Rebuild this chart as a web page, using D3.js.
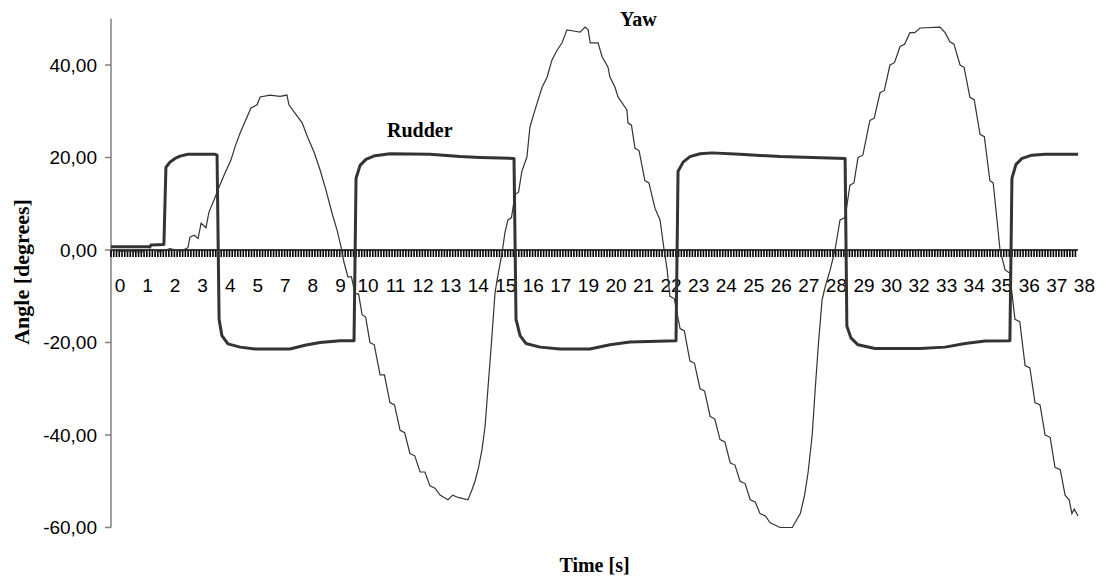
<!DOCTYPE html>
<html><head><meta charset="utf-8">
<script src="https://cdn.jsdelivr.net/npm/d3@7"></script>
<style>body{margin:0;background:#fff} svg{display:block}</style>
</head><body><svg id="c" width="1106" height="580"></svg>
<script>
// ---- data (time in s, angle in degrees) ----
const rudderTime  = [0.00,1.54,1.58,2.09,2.17,2.33,2.53,2.73,3.04,4.11,4.19,4.27,4.38,4.62,5.10,5.69,7.07,7.66,8.26,9.05,9.60,9.68,9.84,10.07,10.43,11.02,12.60,13.79,14.58,15.92,16.00,16.16,16.39,16.95,17.74,18.92,19.71,20.50,22.32,22.40,22.60,22.87,23.27,23.74,24.85,26.43,29.00,29.07,29.23,29.51,30.18,31.96,32.95,33.74,34.53,35.51,35.59,35.75,35.99,36.38,36.90,38.20];
const rudderAngle = [0.7,0.7,1.1,1.2,17.9,19.0,19.8,20.3,20.7,20.7,20.5,-15,-18.5,-20.3,-21.0,-21.4,-21.4,-20.6,-20.0,-19.6,-19.6,15.5,18.3,19.6,20.4,20.8,20.7,20.2,20.0,19.8,-15,-18.5,-20.2,-21.0,-21.4,-21.4,-20.5,-19.9,-19.6,17.0,19.0,20.2,20.8,21.0,20.7,20.2,19.8,-16.5,-19.0,-20.5,-21.3,-21.3,-21.0,-20.2,-19.7,-19.6,15.5,18.5,19.8,20.5,20.7,20.7];

// yaw readings as [time, angle]
const yawSamples = [
 [0.00,0.0],[0.36,-0.3],[0.75,-0.2],[1.15,-0.5],[1.54,0.2],[1.94,-0.4],[2.33,0.3],[2.73,-0.3],[3.04,0.5],
 [3.12,2.8],[3.28,3.2],[3.44,2.5],[3.56,5.8],[3.75,4.8],[3.87,8.2],[4.07,10.8],[4.27,13.6],[4.50,16.6],
 [4.74,19.5],[4.90,22.3],[5.10,25.3],[5.29,27.7],[5.53,30.7],[5.77,31.4],[5.89,33.1],[6.28,33.5],[6.68,33.2],
 [6.95,33.5],[7.03,31.4],[7.27,29.6],[7.55,27.5],[7.78,24.2],[8.02,21.2],[8.26,17.3],[8.49,13.0],[8.73,8.0],
 [8.93,4.3],[9.09,0.6],[9.20,-2.6],[9.36,-5.8],[9.50,-5.8],[9.64,-9.5],[9.78,-9.5],[9.92,-14],[10.06,-14.5],
 [10.23,-20],[10.40,-20.5],[10.63,-27],[10.80,-27],[11.02,-33],[11.20,-33.5],[11.42,-39],[11.60,-39.5],
 [11.81,-44],[12.00,-44.5],[12.21,-48],[12.40,-48],[12.60,-51],[12.80,-51.5],[13.00,-53],[13.31,-54],
 [13.50,-53],[13.71,-53.5],[14.10,-54],[14.25,-52],[14.38,-50],[14.52,-47],[14.66,-43],[14.78,-38],
 [14.89,-30],[15.03,-20],[15.17,-9.3],[15.25,-6.5],[15.45,-0.6],[15.56,3.7],[15.68,6.5],[15.82,7],
 [15.96,12],[16.10,12.5],[16.23,17],[16.43,20.1],[16.55,26.6],[16.75,30.3],[17.03,35.2],[17.23,37.4],
 [17.42,41.1],[17.62,43.2],[17.82,44.8],[18.01,47.6],[18.33,47.3],[18.53,47.1],[18.73,48.2],[18.85,47.6],
 [18.93,44.8],[19.24,44.8],[19.40,41.8],[19.63,39.6],[19.71,37.4],[19.91,35.2],[20.03,33.1],[20.38,30.3],
 [20.42,27.5],[20.56,27],[20.70,22],[20.86,21.5],[21.09,15],[21.25,14.5],[21.49,9],[21.69,6.5],[21.85,0],
 [21.97,-4.3],[22.08,-10],[22.25,-10.5],[22.48,-17],[22.65,-17.5],[22.87,-24],[23.05,-24.5],[23.27,-30],
 [23.45,-30.5],[23.67,-36],[23.85,-36.5],[24.06,-41],[24.25,-41.5],[24.46,-46],[24.65,-46.5],[24.85,-50],
 [25.05,-50.5],[25.25,-54],[25.45,-54.5],[25.64,-57],[25.85,-57.5],[26.04,-59],[26.25,-59.5],[26.43,-60],
 [26.91,-60],[27.23,-57],[27.40,-53],[27.54,-48],[27.70,-40],[27.82,-30],[27.95,-20],[28.09,-10.8],
 [28.21,-8],[28.41,-4.3],[28.60,0],[28.80,6.5],[29.00,7],[29.19,14],[29.35,14.5],[29.51,20],[29.70,20.5],
 [29.98,28],[30.15,28.5],[30.38,34],[30.55,34.5],[30.77,40],[30.95,40.5],[31.17,44],[31.35,44.5],
 [31.56,47],[31.75,47],[31.96,48],[32.75,48.2],[32.95,47],[33.14,45],[33.30,44.5],[33.54,40],[33.70,39.5],
 [33.93,33],[34.10,32.5],[34.33,25],[34.50,24.5],[34.72,15],[34.85,14.5],[35.00,6.5],[35.12,0],
 [35.32,-4.3],[35.50,-5],[35.71,-15],[35.90,-15.5],[36.11,-25],[36.30,-25.5],[36.50,-33],[36.70,-33.5],
 [36.90,-40],[37.10,-40.5],[37.29,-47],[37.50,-47.5],[37.69,-53],[37.85,-54],[37.96,-57],[38.05,-56],
 [38.20,-57.5]
];

const yTicks = [40,20,0,-20,-40,-60];
const xTickLabels = ["0","1","2","3","4","5","7","8","9","10","11","12","13","14","15","16","17","19","20","21","22","23","24","25","26","27","28","29","30","32","33","34","35","36","37","38"];
const sampleStep = 0.10885;   // seconds between samples (categories)
const labelEvery = 10;        // a label every 10 samples
const timeEnd = 38.2;

// ---- layout ----
const svg = d3.select("#c");
const x = d3.scaleLinear().domain([0, timeEnd]).range([111, 1078]);
const y = d3.scaleLinear().domain([-60, 50]).range([527.5, 18.75]);
const fmt = d3.formatLocale({decimal:",", thousands:".", grouping:[3], currency:["",""], minus:"-"}).format(".2f");

// y axis
svg.append("line").attr("x1", x(0)).attr("x2", x(0)).attr("y1", y(50)).attr("y2", y(-60))
  .attr("stroke", "#808080").attr("stroke-width", 1.5);
const yt = svg.append("g");
yTicks.forEach(v => {
  yt.append("line").attr("x1", x(0) - 6).attr("x2", x(0)).attr("y1", y(v)).attr("y2", y(v))
    .attr("stroke", "#808080").attr("stroke-width", 1.5);
  yt.append("text").attr("x", x(0) - 14).attr("y", y(v)).attr("dy", "0.36em")
    .attr("text-anchor", "end").attr("font-family", "Liberation Sans, Arial, sans-serif")
    .attr("font-size", 19).attr("fill", "#000").text(fmt(v));
});

// x axis (crosses at 0) with a tick at every sample
const sampleTimes = d3.range(0, timeEnd, sampleStep);
svg.append("g").selectAll("line").data(sampleTimes).join("line")
  .attr("x1", d => x(d)).attr("x2", d => x(d))
  .attr("y1", y(0)).attr("y2", y(0) + 7)
  .attr("stroke", "#000").attr("stroke-width", 1.6);
svg.append("line").attr("x1", x(0)).attr("x2", x(timeEnd)).attr("y1", y(0)).attr("y2", y(0))
  .attr("stroke", "#000").attr("stroke-width", 1.5);
svg.append("g").selectAll("text").data(xTickLabels).join("text")
  .attr("x", (d, i) => x(i * labelEvery * sampleStep) + 9)
  .attr("y", 285).attr("dy", "0.36em").attr("text-anchor", "middle")
  .attr("font-family", "Liberation Sans, Arial, sans-serif").attr("font-size", 19)
  .attr("fill", "#000").text(d => d);

// series
const yawLine = d3.line().x(d => x(d[0])).y(d => y(d[1]));
svg.append("path").datum(yawSamples)
  .attr("d", yawLine).attr("fill", "none").attr("stroke", "#333").attr("stroke-width", 1.2);
const rudLine = d3.line().x(d => x(d[0])).y(d => y(d[1]));
svg.append("path").datum(rudderTime.map((t, i) => [t, rudderAngle[i]]))
  .attr("d", rudLine).attr("fill", "none").attr("stroke", "#333").attr("stroke-width", 3)
  .attr("stroke-linejoin", "round");

// labels
const serif = "Liberation Serif, Times New Roman, serif";
svg.append("text").attr("x", 387).attr("y", 137).attr("font-family", serif).attr("font-weight", "bold")
  .attr("font-size", 20).text("Rudder");
svg.append("text").attr("x", 620).attr("y", 26).attr("font-family", serif).attr("font-weight", "bold")
  .attr("font-size", 20).text("Yaw");
svg.append("text").attr("x", (x(0) + x(timeEnd)) / 2).attr("y", 572).attr("text-anchor", "middle")
  .attr("font-family", serif).attr("font-weight", "bold").attr("font-size", 20).text("Time [s]");
svg.append("text").attr("transform", "translate(29,272) rotate(-90)").attr("text-anchor", "middle")
  .attr("font-family", serif).attr("font-weight", "bold").attr("font-size", 22).text("Angle [degrees]");
</script></body></html>
